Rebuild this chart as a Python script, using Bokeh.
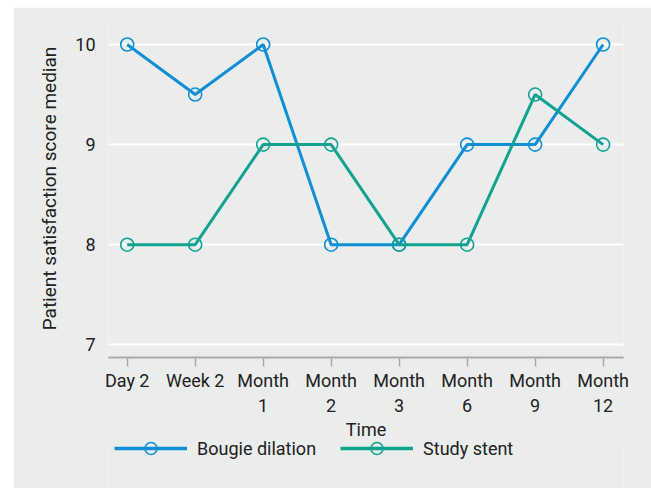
from bokeh.plotting import figure
from bokeh.layouts import column
from bokeh.models import FixedTicker, Legend, LegendItem, Range1d
from bokeh.embed import file_html
from bokeh.resources import INLINE

categories = ["Day 2", "Week 2", "Month\n1", "Month\n2", "Month\n3", "Month\n6", "Month\n9", "Month\n12"]
bougie = [10, 9.5, 10, 8, 8, 9, 9, 10]
stent = [8, 8, 9, 9, 8, 8, 9.5, 9]
y_ticks = [7, 8, 9, 10]
series_names = ["Bougie dilation", "Study stent"]

BLUE = "#0f8fd6"
TEAL = "#12a292"
BG = "#ebecec"
FONT = "Roboto"
FS = "18px"
TXT = "#222222"

xs = list(range(len(categories)))

p = figure(width=638, height=435, output_backend="svg", toolbar_location=None,
           x_range=Range1d(-0.275, 7.30), y_range=Range1d(6.873, 10.25),
           min_border_left=95, min_border_right=28, min_border_top=12, min_border_bottom=85)
p.margin = (7, 0, 0, 13)
p.background_fill_color = BG
p.border_fill_color = BG
p.outline_line_color = None

p.xgrid.grid_line_color = None
p.ygrid.grid_line_color = "white"
p.ygrid.grid_line_width = 2
p.ygrid.ticker = FixedTicker(ticks=y_ticks)

p.xaxis.ticker = FixedTicker(ticks=xs)
p.xaxis.major_label_overrides = {i: c for i, c in enumerate(categories)}
p.xaxis.axis_line_color = "#a9a9a9"
p.xaxis.axis_line_width = 2
p.xaxis.major_tick_line_color = "#a9a9a9"
p.xaxis.major_tick_line_width = 1.5
p.xaxis.major_tick_in = 0
p.xaxis.major_tick_out = 9
p.xaxis.minor_tick_line_color = None
p.xaxis.axis_label = "Time"
p.xaxis.major_label_standoff = 3

p.yaxis.ticker = FixedTicker(ticks=y_ticks)
p.yaxis.axis_line_color = None
p.yaxis.major_tick_line_color = None
p.yaxis.minor_tick_line_color = None
p.yaxis.axis_label = "Patient satisfaction score median"
p.yaxis.major_label_standoff = 7

for ax in (p.xaxis, p.yaxis):
    ax.major_label_text_font = FONT
    ax.major_label_text_font_size = FS
    ax.major_label_text_color = TXT
    ax.axis_label_text_font = FONT
    ax.axis_label_text_font_size = FS
    ax.axis_label_text_font_style = "normal"
    ax.axis_label_text_color = TXT
p.yaxis.axis_label_text_font_size = "19px"
p.xaxis.axis_label_standoff = 0
p.yaxis.axis_label_standoff = 11

p.line(xs, bougie, line_color=BLUE, line_width=3)
p.scatter(xs, bougie, marker="circle", size=13, fill_color=None, line_color=BLUE, line_width=1.6)
p.line(xs, stent, line_color=TEAL, line_width=3)
p.scatter(xs, stent, marker="circle", size=13, fill_color=None, line_color=TEAL, line_width=1.6)

# legend strip below the chart (its frame aligns with the chart's frame)
q = figure(width=638, height=49, output_backend="svg", toolbar_location=None,
           x_axis_type=None, y_axis_type=None, x_range=Range1d(0, 1), y_range=Range1d(0, 1),
           min_border_left=95, min_border_right=28, min_border_top=0, min_border_bottom=0)
q.margin = (-3, 0, 0, 13)
q.background_fill_color = BG
q.border_fill_color = BG
q.outline_line_color = None
q.grid.grid_line_color = None

items = []
for name, col in zip(series_names, [BLUE, TEAL]):
    lr = q.line([5, 6], [5, 6], line_color=col, line_width=3.5)
    sr = q.scatter([5], [5], marker="circle", size=13, fill_color=None, line_color=col, line_width=1.6)
    items.append(LegendItem(label=name, renderers=[lr, sr]))

legend = Legend(items=items, orientation="horizontal", location=(6, 25),
                glyph_width=73, glyph_height=30, label_standoff=10, spacing=24,
                margin=0, padding=0, border_line_color=None, background_fill_alpha=0,
                label_text_font=FONT, label_text_font_size=FS, label_text_color=TXT)
q.add_layout(legend, "center")

layout = column(p, q, spacing=0)
open("out.html", "w").write(file_html(layout, INLINE))
